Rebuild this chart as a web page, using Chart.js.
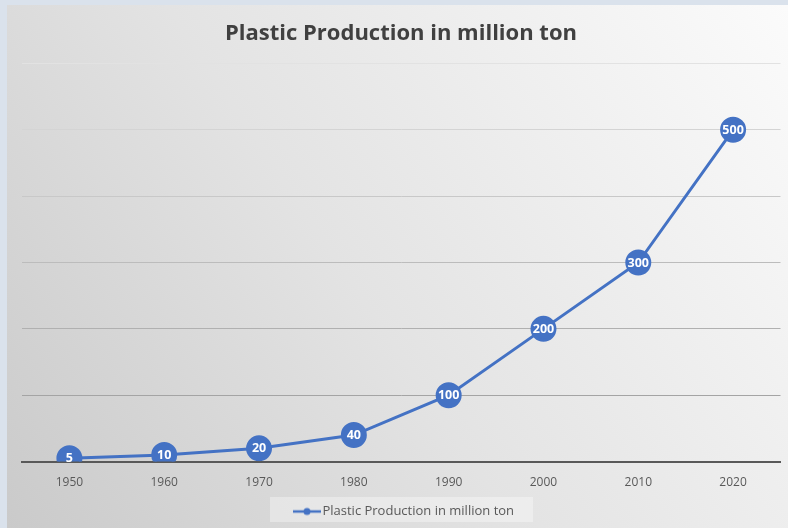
<!DOCTYPE html>
<html><head><meta charset="utf-8">
<script src="https://cdn.jsdelivr.net/npm/chart.js@4.4.0/dist/chart.umd.min.js"></script>
<style>
html,body{margin:0;padding:0;background:#dae2ec;width:788px;height:528px;overflow:hidden;}
#wrap{position:absolute;left:7px;top:5px;width:781px;height:523px;overflow:hidden;}
canvas{display:block;}
</style></head><body>
<div id="wrap"><canvas id="c" width="788" height="523"></canvas></div>
<script>
const years = ['1950','1960','1970','1980','1990','2000','2010','2020'];
const production = [5, 10, 20, 40, 100, 200, 300, 500];
const seriesName = 'Plastic Production in million ton';
const yTicks = [0, 100, 200, 300, 400, 500, 600];

const blue = '#4472c4';
const icon = document.createElement('canvas');
icon.width = 38; icon.height = 10;
(function(){const g=icon.getContext('2d');g.strokeStyle=blue;g.lineWidth=2.5;g.beginPath();g.moveTo(10,5);g.lineTo(38,5);g.stroke();g.fillStyle=blue;g.beginPath();g.arc(24,5,3.5,0,Math.PI*2);g.fill();})();

const bgPlugin = {
  id:'bg',
  beforeDraw(chart){
    const {ctx} = chart;
    const width = 781, height = chart.height;
    const gr = ctx.createLinearGradient(width, 0, 0, height);
    gr.addColorStop(0,'#fbfbfb');
    gr.addColorStop(0.55,'#e3e3e3');
    gr.addColorStop(1,'#cacaca');
    ctx.save();
    ctx.fillStyle = gr;
    ctx.fillRect(0,0,chart.width,height);
    const lg = chart.legend;
    if(lg){
      ctx.fillStyle='rgba(255,255,255,0.35)';
      ctx.fillRect(263, lg.top+1, 263, 25);
    }
    ctx.restore();
  }
};
const labelPlugin = {
  id:'lbls',
  afterDatasetsDraw(chart){
    const ctx = chart.ctx;
    const meta = chart.getDatasetMeta(0);
    ctx.save();
    ctx.fillStyle='#ffffff';
    ctx.font='bold 12.5px "Open Sans"';
    ctx.textAlign='center';ctx.textBaseline='middle';
    meta.data.forEach((p,i)=>{ctx.fillText(String(production[i]), p.x, p.y+0.5);});
    ctx.restore();
  }
};

new Chart(document.getElementById('c'), {
  type:'line',
  data:{labels:years, datasets:[{
    label:seriesName, data:production,
    borderColor:blue, backgroundColor:blue, borderWidth:3,
    pointRadius:11.5, pointHoverRadius:11.5, pointBackgroundColor:blue, pointBorderColor:blue,
    pointStyle:'circle', tension:0
  }]},
  options:{
    responsive:false, animation:false, devicePixelRatio:1,
    layout:{padding:{left:0,right:0,top:0,bottom:0}},
    plugins:{
      title:{display:true,text:seriesName,color:'#404040',align:'center',font:{family:'"Open Sans"',size:22,weight:'bold'},padding:{top:16,bottom:16}},
      legend:{position:'bottom',align:'center',labels:{color:'#595959',font:{family:'"Open Sans"',size:13},usePointStyle:true,pointStyleWidth:28,
        generateLabels(chart){return [{text:seriesName,pointStyle:icon,fontColor:'#595959',hidden:false,datasetIndex:0,lineWidth:0,strokeStyle:'transparent',fillStyle:'transparent'}];},
        padding:9}},
      tooltip:{enabled:false}
    },
    scales:{
      x:{offset:true,grid:{display:false},border:{display:true,color:'#595959',width:2},
        ticks:{color:'#595959',font:{family:'"Open Sans"',size:12},padding:6}},
      y:{min:0,max:600,afterBuildTicks(ax){ax.ticks=yTicks.map(v=>({value:v}));},
        afterFit(ax){ax.width=15;},
        ticks:{display:false},border:{display:false},
        grid:{drawTicks:false,lineWidth:1,color(c){const v=c.tick.value; if(v===0) return 'rgba(0,0,0,0)'; return ['','#a4a4a4','#b0b0b0','#bcbcbc','#c8c8c8','#d4d4d4','#e2e2e2'][v/100];}}}
    }
  },
  plugins:[bgPlugin,labelPlugin]
});
</script>
</body></html>
